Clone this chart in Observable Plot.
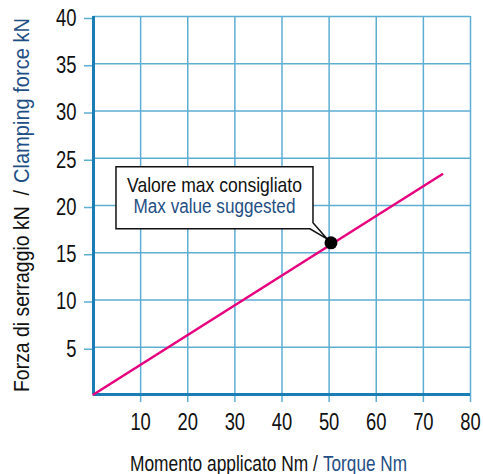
<!DOCTYPE html>
<html>
<head>
<meta charset="utf-8">
<script src="https://cdn.jsdelivr.net/npm/d3@7"></script>
<script src="https://cdn.jsdelivr.net/npm/@observablehq/plot@0.6"></script>
<style>
  html, body { margin: 0; padding: 0; background: #fff; }
</style>
</head>
<body>
<div id="chart"></div>
<script>
// Data
const torqueNm = [0, 74];          // x values of the line
const forceKN = [0, 23.3];         // y values of the line
const suggestedTorque = [50.5];
const suggestedForce = [16];
const calloutIt = "Valore max consigliato";
const calloutEn = "Max value suggested";
const xTicks = [10, 20, 30, 40, 50, 60, 70, 80];
const yTicks = [5, 10, 15, 20, 25, 30, 35, 40];
const xLabelIt = "Momento applicato Nm /";
const xLabelEn = "Torque Nm";
const yLabelIt = "Forza di serraggio kN  /";
const yLabelEn = "Clamping force kN";

const FONT = "'Liberation Sans', Arial, Helvetica, sans-serif";
const GRID = "#5eaed4";
const AXIS = "#1a7db5";
const BLUE = "#1f4f85";

const lineData = torqueNm.map((t, i) => ({torque: t, force: forceKN[i]}));
const pointData = suggestedTorque.map((t, i) => ({torque: t, force: suggestedForce[i]}));

const plot = Plot.plot({
  width: 483,
  height: 474,
  marginLeft: 93,
  marginRight: 13,
  marginTop: 16,
  marginBottom: 80,
  style: {fontFamily: FONT, fontSize: "23px", color: "#111", background: "#fff"},
  x: {domain: [0, 80], label: null},
  y: {domain: [0, 40], label: null},
  marks: [
    Plot.gridX(xTicks, {stroke: GRID, strokeOpacity: 1, strokeWidth: 1.5}),
    Plot.gridY(yTicks, {stroke: GRID, strokeOpacity: 1, strokeWidth: 1.5}),
    Plot.axisX({ticks: xTicks, tickSize: 8, tickPadding: 11, stroke: GRID, strokeWidth: 1.5, label: null, fill: "#111"}),
    Plot.axisY({ticks: yTicks, tickSize: 9, tickPadding: 8, dy: 2, stroke: GRID, strokeWidth: 1.5, label: null, fill: "#111"}),
    Plot.ruleX([0], {y1: 0, y2: 40, stroke: AXIS, strokeWidth: 3}),
    Plot.ruleY([0], {x1: 0, x2: 80, stroke: AXIS, strokeWidth: 3}),
    Plot.line(lineData, {x: "torque", y: "force", stroke: "#e6007e", strokeWidth: 2.5})
  ]
});

document.getElementById("chart").appendChild(plot);
const svg = d3.select(plot);

// condense tick labels horizontally (reference uses a narrow face)
svg.selectAll("g[aria-label='x-axis tick label'] text, g[aria-label='y-axis tick label'] text").each(function() {
  const tr = this.getAttribute("transform");
  if (tr) {
    this.setAttribute("transform", `${tr} scale(0.8,1)`);
  } else {
    const len = this.getComputedTextLength();
    d3.select(this).attr("textLength", len * 0.8).attr("lengthAdjust", "spacingAndGlyphs");
  }
});

// helper: place a text and squeeze it horizontally to a target length
function fitText(str, fill, size, baseTransform, target, anchor) {
  const t = svg.append("text")
    .attr("text-anchor", anchor).attr("font-family", FONT).attr("font-size", size)
    .attr("fill", fill).style("white-space", "pre").text(str);
  const s = target / t.node().getComputedTextLength();
  t.attr("transform", `${baseTransform} scale(${s},1)`);
  return t;
}

// callout at the suggested maximum, positioned through Plot's scales
const sx = plot.scale("x"), sy = plot.scale("y");
pointData.forEach(d => {
  const px = sx.apply(d.torque), py = sy.apply(d.force);
  const L = px - 215, T = py - 76, R = px - 18, B = py - 14;
  svg.append("path")
    .attr("d", `M${L},${T}H${R}V${B - 6}L${px - 4},${py - 4}L${R - 3},${B}H${L}Z`)
    .attr("fill", "#fff").attr("stroke", "#111").attr("stroke-width", 1.5);
  const cx = (L + R) / 2;
  fitText(calloutIt, "#111", 21, `translate(${cx},${py - 51})`, 175, "middle");
  fitText(calloutEn, BLUE, 21, `translate(${cx},${py - 30})`, 162, "middle");
  svg.append("circle").attr("cx", px).attr("cy", py).attr("r", 6.5).attr("fill", "#000");
});

// x axis title (two colours)
fitText(xLabelIt, "#111", 22, "translate(130,471)", 188, "start");
fitText(xLabelEn, BLUE, 22, "translate(323,471)", 84, "start");

// y axis title (two colours)
fitText(yLabelIt, "#111", 22, "translate(29,392) rotate(-90)", 202, "start");
fitText(yLabelEn, BLUE, 22, "translate(29,183) rotate(-90)", 165, "start");
</script>
</body>
</html>
